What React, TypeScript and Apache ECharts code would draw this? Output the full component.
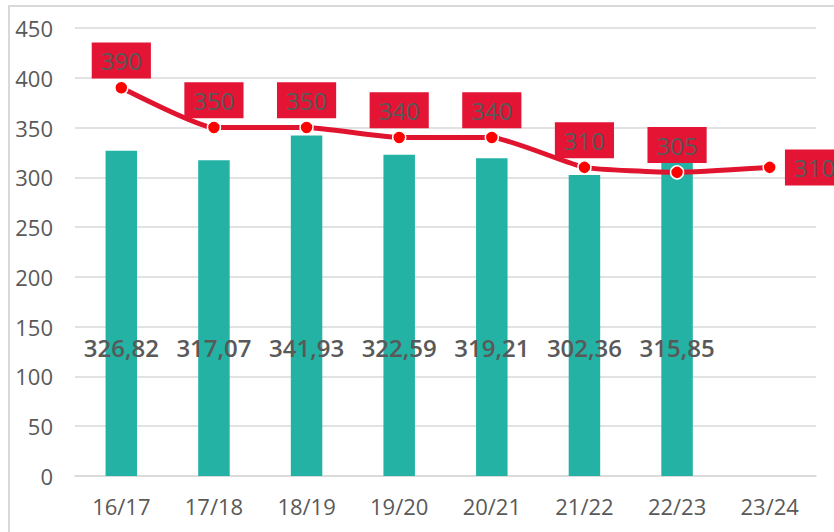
import React, { useEffect, useRef } from "react";
import * as echarts from "echarts";

const categories = ["16/17", "17/18", "18/19", "19/20", "20/21", "21/22", "22/23", "23/24"];
const barValues: (number | null)[] = [326.82, 317.07, 341.93, 322.59, 319.21, 302.36, 315.85, null];
const lineValues = [390, 350, 350, 340, 340, 310, 305, 310];
const yTicks = { min: 0, max: 450, interval: 50 };

const FONT = "'Open Sans', 'Noto Sans', sans-serif";
const GRAY = "#595959";

export default function App() {
  const ref = useRef<HTMLDivElement>(null);
  useEffect(() => {
    if (!ref.current) return;
    const chart = echarts.init(ref.current, null, { renderer: "svg" });
    const lastIdx = lineValues.length - 1;
    chart.setOption({
      animation: false,
      backgroundColor: "#ffffff",
      textStyle: { fontFamily: FONT },
      graphic: [
        {
          type: "rect",
          shape: { x: 9, y: 6, width: 840, height: 540 },
          style: { fill: "none", stroke: "#D9D9D9", lineWidth: 2 },
          silent: true,
          z: 0,
        },
      ],
      grid: { left: 75, right: 18, top: 28, bottom: 56, containLabel: false },
      xAxis: {
        type: "category",
        data: categories,
        axisLine: { lineStyle: { color: "#D9D9D9", width: 1.5 } },
        axisTick: { show: false },
        axisLabel: { color: GRAY, fontSize: 22, fontFamily: FONT, margin: 19 },
      },
      yAxis: {
        type: "value",
        min: yTicks.min,
        max: yTicks.max,
        interval: yTicks.interval,
        axisLine: { show: false },
        axisTick: { show: false },
        axisLabel: { color: GRAY, fontSize: 22, fontFamily: FONT, margin: 22 },
        splitLine: { lineStyle: { color: "#D9D9D9", width: 1.5 } },
      },
      series: [
        {
          type: "bar",
          data: barValues,
          barWidth: "34%",
          itemStyle: { color: "#23B2A3" },
          label: {
            show: true,
            position: "insideBottom",
            distance: 117,
            color: GRAY,
            fontSize: 24,
            fontWeight: 600,
            fontFamily: FONT,
            lineHeight: 24,
            formatter: (p: any) => (p.value == null ? "" : Number(p.value).toFixed(2).replace(".", ",")),
          },
          z: 2,
        },
        {
          type: "line",
          data: lineValues.map((v, i) =>
            i === lastIdx ? { value: v, label: { position: "right", distance: 8 } } : v
          ),
          smooth: 0.15,
          symbol: "circle",
          symbolSize: 13,
          lineStyle: { color: "#E0142F", width: 5 },
          itemStyle: { color: "#FF0000", borderColor: "#ffffff", borderWidth: 1.5 },
          label: {
            show: true,
            position: "top",
            distance: 2,
            color: GRAY,
            fontSize: 24,
            fontFamily: FONT,
            lineHeight: 24,
            backgroundColor: "#E31434",
            padding: [6, 9, 6, 9],
          },
          z: 3,
        },
      ],
    });
    return () => chart.dispose();
  }, []);
  return (
    <div
      ref={ref}
      style={{ position: "absolute", left: 0, top: 0, width: 834, height: 532 }}
    />
  );
}
